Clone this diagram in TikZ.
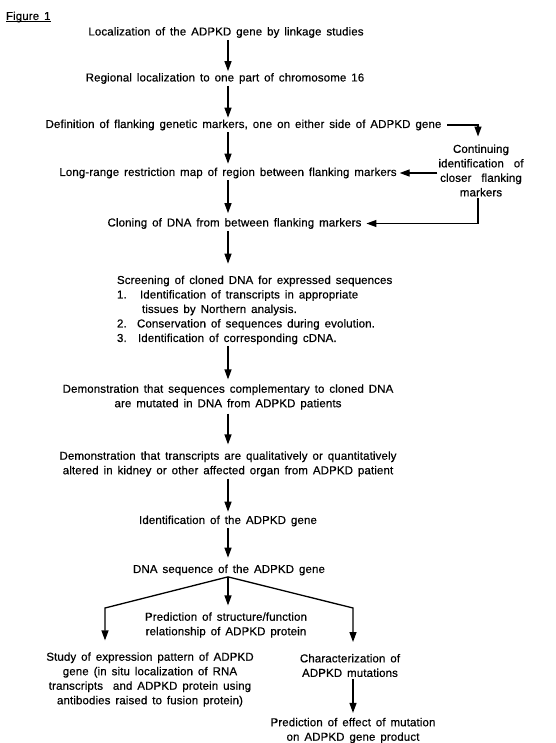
\documentclass[tikz,border=0pt]{standalone}
\usepackage{fontspec}
\usetikzlibrary{arrows.meta}
\newfontfamily\figfont{Liberation Sans}[LetterSpace=1, WordSpace=1.5, FakeBold=0.5]
\newcommand\figtext{\figfont\fontsize{11.5}{14.5}\selectfont}

\begin{document}
\begin{tikzpicture}[x=1pt,y=-1pt,
  lbl/.style={font=\figtext, inner sep=0pt, outer sep=0pt, align=center, text=black},
  arr/.style={draw=black, line width=1.3pt, -{Triangle[length=10pt,width=7pt]},
              shorten <=2pt, shorten >=2pt}]
\useasboundingbox[fill=white] (0,0) rectangle (555,743);

% main column of the flow chart
\coordinate (spine) at (228,0);
\coordinate (bend) at (478,0);

\node[lbl, anchor=west] (fig) at (6,17) {Figure 1};
\draw[line width=0.8pt] ([yshift=-1.8pt]fig.base west) -- ([yshift=-1.8pt]fig.base east);

\node[lbl] (n1) at (226,32.5) {Localization of the ADPKD gene by linkage studies};
\node[lbl] (n2) at (225,78.5) {Regional localization to one part of chromosome 16};
\node[lbl] (n3) at (243.5,125) {Definition of flanking genetic markers, one on either side of ADPKD gene};
\node[lbl] (n4) at (228,173) {Long-range restriction map of region between flanking markers};
\node[lbl] (n5) at (234.5,223.5) {Cloning of DNA from between flanking markers};
\node[lbl, align=left, anchor=west] (n6) at (117,310) {Screening of cloned DNA for expressed sequences\\
  \makebox[23pt][l]{1.}Identification of transcripts in appropriate\\
  \hspace*{25pt}tissues by Northern analysis.\\
  \makebox[20pt][l]{2.}Conservation of sequences during evolution.\\
  \makebox[21pt][l]{3.}Identification of corresponding cDNA.};
\node[lbl] (n7) at (228,397) {Demonstration that sequences complementary to cloned DNA\\are mutated in DNA from ADPKD patients};
\node[lbl] (n8) at (228,464) {Demonstration that transcripts are qualitatively or quantitatively\\altered in kidney or other affected organ from ADPKD patient};
\node[lbl] (n9) at (228,521) {Identification of the ADPKD gene};
\node[lbl] (n10) at (229,570) {DNA sequence of the ADPKD gene};
\node[lbl] (n11) at (226,625) {Prediction of structure/function\\relationship of ADPKD protein};
\node[lbl] (n12) at (150,679.5) {Study of expression pattern of ADPKD\\gene (in situ localization of RNA\\transcripts\ \ and ADPKD protein using\\antibodies raised to fusion protein)};
\node[lbl] (n13) at (350,665.5) {Characterization of\\ADPKD mutations};
\node[lbl] (n14) at (353,730.5) {Prediction of effect of mutation\\on ADPKD gene product};
\node[lbl] (n15) at (481,170.5) {Continuing\\identification\ \ of\\closer\ \ flanking\\markers};

% downward steps
\draw[arr] (n1.south -| spine) -- (n2.north -| spine);
\draw[arr] (n2.south -| spine) -- (n3.north -| spine);
\draw[arr, shorten >=4pt] (n3.south -| spine) -- (n4.north -| spine);
\draw[arr, shorten >=5pt] (n4.south -| spine) -- (n5.north -| spine);
\draw[arr, shorten >=12pt] (n5.south -| spine) -- (n6.north -| spine);
\draw[arr, shorten >=5pt] (n6.south -| spine) -- (n7.north -| spine);
\draw[arr, shorten <=4pt, shorten >=7pt] (n7.south -| spine) -- (n8.north -| spine);
\draw[arr, shorten >=4pt] (n8.south -| spine) -- (n9.north -| spine);
\draw[arr, shorten >=7pt] (n9.south -| spine) -- (n10.north -| spine);

% side loop for closer flanking markers
\draw[arr, shorten <=6pt, shorten >=8pt] (n3.east) -| (bend |- n15.north);
\draw[arr, shorten <=1pt, shorten >=3pt] (n15.west |- n4.center) -- (n4.east);
\draw[arr, shorten >=5pt] (bend |- n15.south) |- (n5.east);

% three-way branch below the DNA sequence
\coordinate (apex) at ([yshift=-1.5pt]n10.south -| spine);
\coordinate (lcorner) at (105,608);
\coordinate (rcorner) at (353,608);
\draw[arr, shorten <=0pt, shorten >=12pt] (apex) -- (lcorner) -- (lcorner |- n12.north);
\draw[arr, shorten <=0pt, shorten >=7pt] (apex) -- (apex |- n11.north);
\draw[arr, shorten <=0pt, shorten >=12pt] (apex) -- (rcorner) -- (rcorner |- n13.north);
\draw[arr, shorten >=5pt] (n13.south -| rcorner) -- (n14.north -| rcorner);
\end{tikzpicture}
\end{document}
